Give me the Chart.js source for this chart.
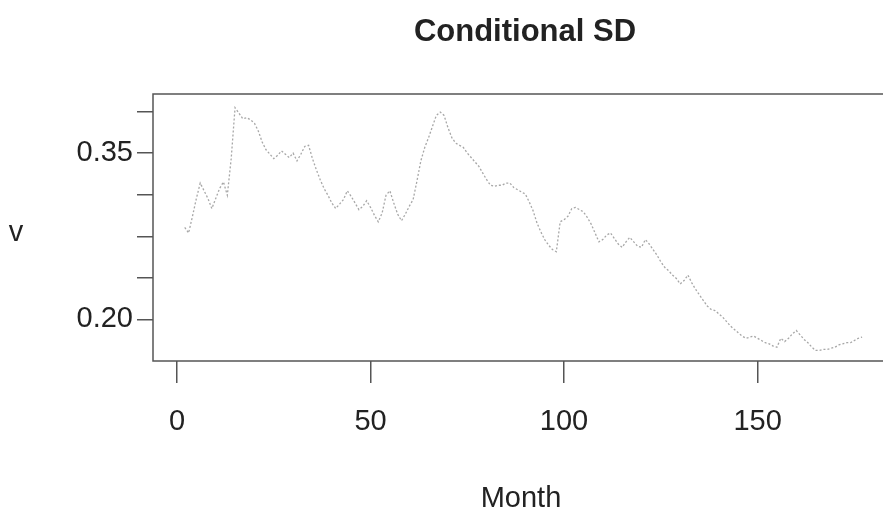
<html>
<head>
<style>
  body { margin: 0; background: #fff; }
  canvas { display: block; }
</style>
</head>
<body>
<script src="https://cdn.jsdelivr.net/npm/chart.js@4/dist/chart.umd.min.js"></script>
<canvas id="sdChart" width="883" height="515"></canvas>
<script>
// conditional standard deviation, one value per month starting at month 2
const firstMonth = 2;
const condSD = [
  0.283, 0.278, 0.293, 0.309, 0.323, 0.316, 0.309, 0.300, 0.309, 0.318,
  0.324, 0.312, 0.345, 0.391, 0.386, 0.381, 0.382, 0.380, 0.377, 0.370,
  0.360, 0.353, 0.349, 0.345, 0.348, 0.352, 0.349, 0.346, 0.350, 0.343,
  0.349, 0.356, 0.357, 0.345, 0.335, 0.326, 0.318, 0.312, 0.305, 0.300,
  0.304, 0.308, 0.316, 0.311, 0.305, 0.299, 0.302, 0.307, 0.301, 0.294,
  0.288, 0.296, 0.312, 0.316, 0.305, 0.295, 0.289, 0.295, 0.302, 0.308,
  0.325, 0.343, 0.355, 0.364, 0.374, 0.384, 0.387, 0.384, 0.373, 0.364,
  0.359, 0.357, 0.355, 0.350, 0.346, 0.342, 0.338, 0.332, 0.326, 0.321,
  0.320, 0.321, 0.321, 0.323, 0.323, 0.319, 0.317, 0.315, 0.313, 0.306,
  0.298, 0.287, 0.279, 0.272, 0.267, 0.263, 0.261, 0.288, 0.290, 0.293,
  0.300, 0.301, 0.299, 0.297, 0.292, 0.286, 0.278, 0.270, 0.272, 0.276,
  0.278, 0.273, 0.268, 0.265, 0.270, 0.274, 0.270, 0.266, 0.265, 0.272,
  0.268, 0.263, 0.258, 0.252, 0.247, 0.244, 0.240, 0.237, 0.232, 0.235,
  0.240, 0.233, 0.227, 0.222, 0.217, 0.212, 0.209, 0.208, 0.205, 0.202,
  0.198, 0.194, 0.191, 0.188, 0.185, 0.183, 0.184, 0.185, 0.183, 0.181,
  0.179, 0.178, 0.176, 0.175, 0.183, 0.180, 0.183, 0.187, 0.190, 0.186,
  0.182, 0.179, 0.175, 0.172, 0.172, 0.173, 0.173, 0.174, 0.175, 0.177,
  0.178, 0.179, 0.179, 0.181, 0.183, 0.184
];

const xTicks = [0, 50, 100, 150];
const yTicks = [0.20, 0.2375, 0.275, 0.3125, 0.35, 0.3875];
const yTickLabels = { '0.2': '0.20', '0.35': '0.35' };

const FONT = "'Liberation Sans', Arial, sans-serif";

const points = condSD.map((v, i) => ({ x: firstMonth + i, y: v }));

// title, axis titles and the plot box (no right side)
const decor = {
  id: 'decor',
  afterDraw(chart) {
    const { ctx, chartArea: a } = chart;
    ctx.save();
    ctx.strokeStyle = '#555';
    ctx.lineWidth = 1.5;
    ctx.beginPath();
    ctx.moveTo(a.right + 2, a.top);
    ctx.lineTo(a.left, a.top);
    ctx.lineTo(a.left, a.bottom);
    ctx.lineTo(a.right + 2, a.bottom);
    ctx.stroke();

    ctx.fillStyle = '#222';
    ctx.textAlign = 'center';
    ctx.textBaseline = 'alphabetic';
    ctx.font = 'bold 31px ' + FONT;
    ctx.fillText('Conditional SD', 525, 41);
    ctx.font = '29px ' + FONT;
    ctx.fillText('Month', 521, 507);
    ctx.fillText('v', 16, 241);
    ctx.restore();
  }
};

new Chart(document.getElementById('sdChart'), {
  type: 'line',
  data: {
    datasets: [{
      data: points,
      borderColor: 'rgba(120,120,120,0.65)',
      borderWidth: 1.3,
      borderDash: [2, 2],
      pointRadius: 0,
      tension: 0,
      fill: false
    }]
  },
  options: {
    responsive: false,
    animation: false,
    layout: { padding: { top: 94, left: 0, right: 0, bottom: 0 } },
    plugins: { legend: { display: false }, title: { display: false }, tooltip: { enabled: false } },
    scales: {
      x: {
        type: 'linear',
        min: -6.2,
        max: 182.4,
        afterFit(s) { s.height = 154; },
        afterBuildTicks(s) { s.ticks = xTicks.map(v => ({ value: v })); },
        border: { display: false },
        grid: { drawOnChartArea: false, drawTicks: true, tickLength: 22, tickColor: '#555', lineWidth: 1.5 },
        ticks: { color: '#222', padding: 22, maxRotation: 0, font: { family: FONT, size: 29 } }
      },
      y: {
        type: 'linear',
        min: 0.1625,
        max: 0.4033,
        afterFit(s) { s.width = 153; },
        afterBuildTicks(s) { s.ticks = yTicks.map(v => ({ value: v })); },
        border: { display: false },
        grid: { drawOnChartArea: false, drawTicks: true, tickLength: 16, tickColor: '#555', lineWidth: 1.5 },
        ticks: {
          color: '#222',
          padding: 4,
          font: { family: FONT, size: 29 },
          callback: v => yTickLabels[String(+v.toFixed(4))] || ''
        }
      }
    }
  },
  plugins: [decor]
});
</script>
</body>
</html>
